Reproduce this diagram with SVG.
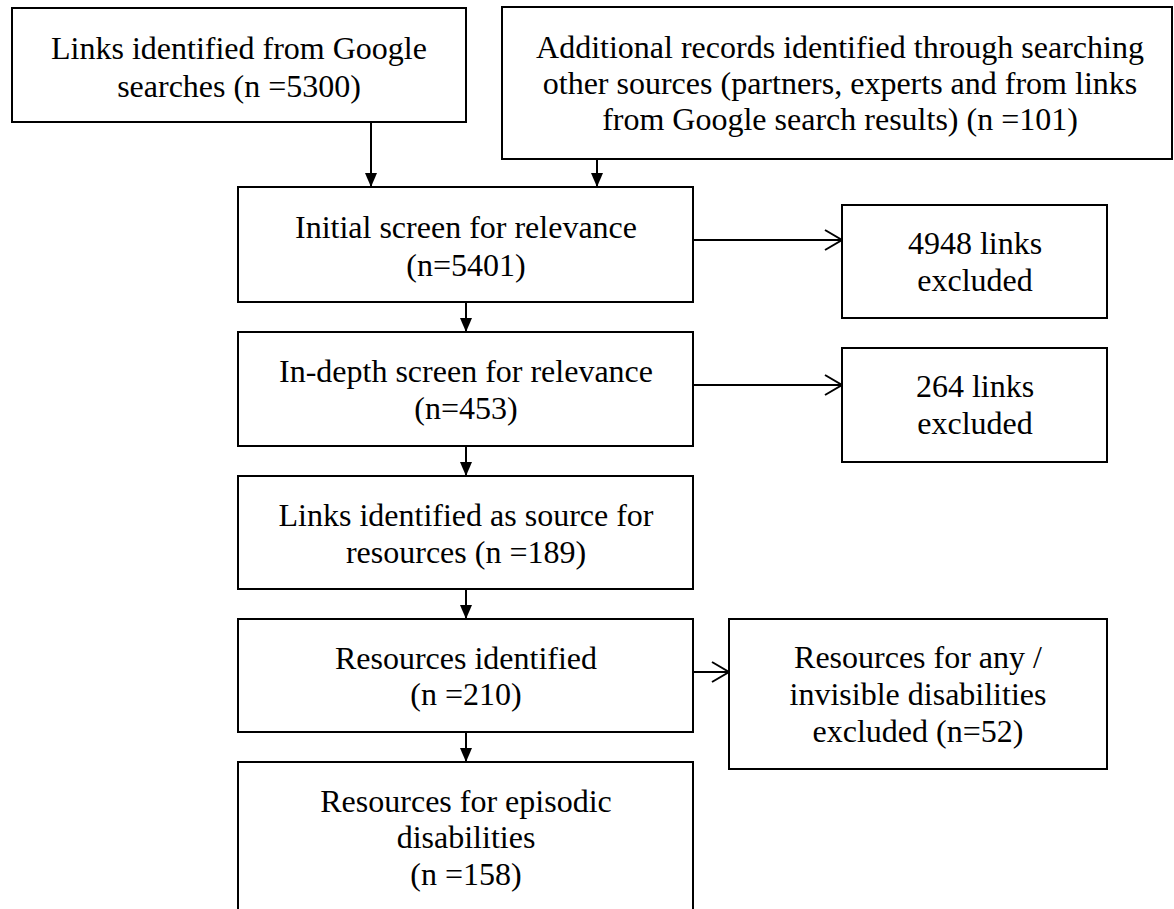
<svg xmlns="http://www.w3.org/2000/svg" width="1174" height="909" viewBox="0 0 1174 909">
<style>
  .box { fill: #ffffff; stroke: #000000; stroke-width: 2; }
  .lbl { font-family: "Liberation Serif", "Times New Roman", serif; font-size: 32px; fill: #000000; text-anchor: middle; }
  .conn { stroke: #000000; stroke-width: 2; fill: none; }
</style>
<defs>
  <marker id="tri" viewBox="0 0 14 12" refX="14" refY="6" markerWidth="14" markerHeight="12" markerUnits="userSpaceOnUse" orient="auto">
    <path d="M0,0 L14,6 L0,12 Z" fill="#000000"/>
  </marker>
  <marker id="open" viewBox="0 0 20 24" refX="18" refY="12" markerWidth="20" markerHeight="24" markerUnits="userSpaceOnUse" orient="auto">
    <path d="M1,2 L18,12 L1,22" fill="none" stroke="#000000" stroke-width="2"/>
  </marker>
</defs>
<rect width="1174" height="909" fill="#ffffff"/>

<g id="connectors">
  <line class="conn" x1="371" y1="122" x2="371" y2="187" marker-end="url(#tri)"/>
  <line class="conn" x1="597" y1="159" x2="597" y2="187" marker-end="url(#tri)"/>
  <line class="conn" x1="466" y1="302" x2="466" y2="332" marker-end="url(#tri)"/>
  <line class="conn" x1="466" y1="446" x2="466" y2="476" marker-end="url(#tri)"/>
  <line class="conn" x1="466" y1="589" x2="466" y2="619" marker-end="url(#tri)"/>
  <line class="conn" x1="466" y1="732" x2="466" y2="762" marker-end="url(#tri)"/>
  <line class="conn" x1="693" y1="240" x2="842" y2="240" marker-end="url(#open)"/>
  <line class="conn" x1="693" y1="385" x2="842" y2="385" marker-end="url(#open)"/>
  <line class="conn" x1="693" y1="672" x2="729" y2="672" marker-end="url(#open)"/>
</g>

<g id="node-google">
  <rect class="box" x="12" y="8" width="454" height="114"/>
  <text class="lbl" x="239" y="59">Links identified from Google</text>
  <text class="lbl" x="239" y="97">searches (n =5300)</text>
</g>

<g id="node-additional">
  <rect class="box" x="502" y="7" width="670" height="152"/>
  <text class="lbl" x="840" y="58">Additional records identified through searching</text>
  <text class="lbl" x="840" y="94">other sources (partners, experts and from links</text>
  <text class="lbl" x="840" y="130">from Google search results) (n =101)</text>
</g>

<g id="node-initial">
  <rect class="box" x="238" y="187" width="455" height="115"/>
  <text class="lbl" x="466" y="238">Initial screen for relevance</text>
  <text class="lbl" x="466" y="276">(n=5401)</text>
</g>

<g id="node-excl1">
  <rect class="box" x="842" y="205" width="265" height="113"/>
  <text class="lbl" x="975" y="254">4948 links</text>
  <text class="lbl" x="975" y="291">excluded</text>
</g>

<g id="node-indepth">
  <rect class="box" x="238" y="332" width="455" height="114"/>
  <text class="lbl" x="466" y="382">In-depth screen for relevance</text>
  <text class="lbl" x="466" y="419">(n=453)</text>
</g>

<g id="node-excl2">
  <rect class="box" x="842" y="348" width="265" height="114"/>
  <text class="lbl" x="975" y="397">264 links</text>
  <text class="lbl" x="975" y="434">excluded</text>
</g>

<g id="node-source">
  <rect class="box" x="238" y="476" width="455" height="113"/>
  <text class="lbl" x="466" y="526">Links identified as source for</text>
  <text class="lbl" x="466" y="563">resources (n =189)</text>
</g>

<g id="node-resources">
  <rect class="box" x="238" y="619" width="455" height="113"/>
  <text class="lbl" x="466" y="669">Resources identified</text>
  <text class="lbl" x="466" y="705">(n =210)</text>
</g>

<g id="node-excl3">
  <rect class="box" x="729" y="619" width="378" height="150"/>
  <text class="lbl" x="918" y="668">Resources for any /</text>
  <text class="lbl" x="918" y="705">invisible disabilities</text>
  <text class="lbl" x="918" y="742">excluded (n=52)</text>
</g>

<g id="node-episodic">
  <rect class="box" x="238" y="762" width="455" height="160"/>
  <text class="lbl" x="466" y="812">Resources for episodic</text>
  <text class="lbl" x="466" y="848">disabilities</text>
  <text class="lbl" x="466" y="885">(n =158)</text>
</g>
</svg>
